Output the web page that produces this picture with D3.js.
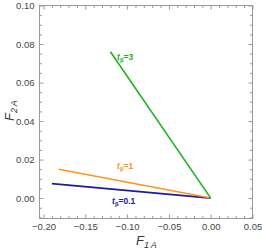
<!DOCTYPE html>
<html lang="en">
<head>
    <meta charset="UTF-8">
    <title>F2A vs F1A</title>
    <script src="https://d3js.org/d3.v7.min.js"></script>
    <style>
        body { margin: 0; background: #fff; }
        svg * { font-family: 'Liberation Sans', 'Helvetica', sans-serif; }
        .domain { display: none; }
        .tick line { stroke: #999; }
        .tick text { fill: #444; }
    </style>
</head>
<body>
    <svg></svg>
    <script>
        // series: F1A, F2A pairs
        const blueX = [-0.19, 0.0];
        const blueY = [0.0075, 0.0];
        const orangeX = [-0.182, 0.0];
        const orangeY = [0.015, 0.0];
        const greenX = [-0.12, 0.0];
        const greenY = [0.076, 0.0];

        const seriesNames = ["0.1", "1", "3"];
        const xTicks = [-0.20, -0.15, -0.10, -0.05, 0.00, 0.05];
        const yTicks = [0.00, 0.02, 0.04, 0.06, 0.08, 0.10];

        const width = 262, height = 250;
        const svg = d3.select("svg").attr("width", width).attr("height", height);

        const plotL = 39.5, plotR = 252.5, plotT = 5.5, plotB = 218.5;
        const x = d3.scaleLinear().domain([-0.2048, 0.05]).range([plotL, plotR]);
        const y = d3.scaleLinear().domain([-0.0106, 0.10]).range([plotB, plotT]);

        const xMinor = d3.range(-0.20, 0.0501, 0.01).filter(v => !xTicks.some(t => Math.abs(t - v) < 1e-9));
        const yMinor = d3.range(-0.01, 0.1001, 0.005).filter(v => !yTicks.some(t => Math.abs(t - v) < 1e-9));

        // frame
        svg.append("rect")
            .attr("x", plotL).attr("y", plotT)
            .attr("width", plotR - plotL).attr("height", plotB - plotT)
            .attr("fill", "none").attr("stroke", "#999").attr("stroke-width", 1);

        function addAxes(axisFn, pos, scale, major, minor, labels) {
            svg.append("g").attr("transform", pos)
                .call(axisFn(scale).tickValues(major).tickSize(-4).tickPadding(labels ? 5 : 0)
                    .tickFormat(labels ? (d => d3.format(".2f")(d).replace("-", "\u2212")) : ""));
            svg.append("g").attr("transform", pos)
                .call(axisFn(scale).tickValues(minor).tickSize(-2.5).tickFormat(""));
        }
        addAxes(d3.axisBottom, `translate(0,${plotB})`, x, xTicks, xMinor, true);
        addAxes(d3.axisTop, `translate(0,${plotT})`, x, xTicks, xMinor, false);
        addAxes(d3.axisLeft, `translate(${plotL},0)`, y, yTicks, yMinor, true);
        addAxes(d3.axisRight, `translate(${plotR},0)`, y, yTicks, yMinor, false);

        svg.selectAll(".tick text").attr("font-size", 9.5);

        // lines
        const series = [
            { xs: blueX, ys: blueY, color: "#1a1aa6", lx: -0.118, ly: -0.0033 },
            { xs: orangeX, ys: orangeY, color: "#ff9419", lx: -0.112, ly: 0.0152 },
            { xs: greenX, ys: greenY, color: "#22b022", lx: -0.112, ly: 0.0715 }
        ];
        const line = d3.line().x(d => x(d[0])).y(d => y(d[1]));
        series.forEach((s, i) => {
            svg.append("path")
                .datum(s.xs.map((v, j) => [v, s.ys[j]]))
                .attr("d", line)
                .attr("fill", "none")
                .attr("stroke", s.color)
                .attr("stroke-width", 1.6);
            const t = svg.append("text")
                .attr("x", x(s.lx)).attr("y", y(s.ly))
                .attr("fill", s.color)
                .attr("font-size", 8.5)
                .attr("font-weight", "bold");
            t.append("tspan").attr("font-style", "italic").text("t");
            t.append("tspan").attr("font-size", 6).attr("dy", 2).text("\u03B2");
            t.append("tspan").attr("dy", -2).text("=" + seriesNames[i]);
        });

        // axis titles
        const xt = svg.append("text").attr("x", 136).attr("y", 245)
            .attr("fill", "#333").attr("font-size", 13);
        xt.append("tspan").attr("font-style", "italic").text("F");
        xt.append("tspan").attr("font-size", 9).attr("dy", 3).attr("font-style", "italic").text("1\u2009A");

        const yt = svg.append("text")
            .attr("transform", "translate(14,121) rotate(-90)")
            .attr("fill", "#333").attr("font-size", 13);
        yt.append("tspan").attr("font-style", "italic").text("F");
        yt.append("tspan").attr("font-size", 9).attr("dy", 3).attr("font-style", "italic").text("2\u2009A");
    </script>
</body>
</html>
